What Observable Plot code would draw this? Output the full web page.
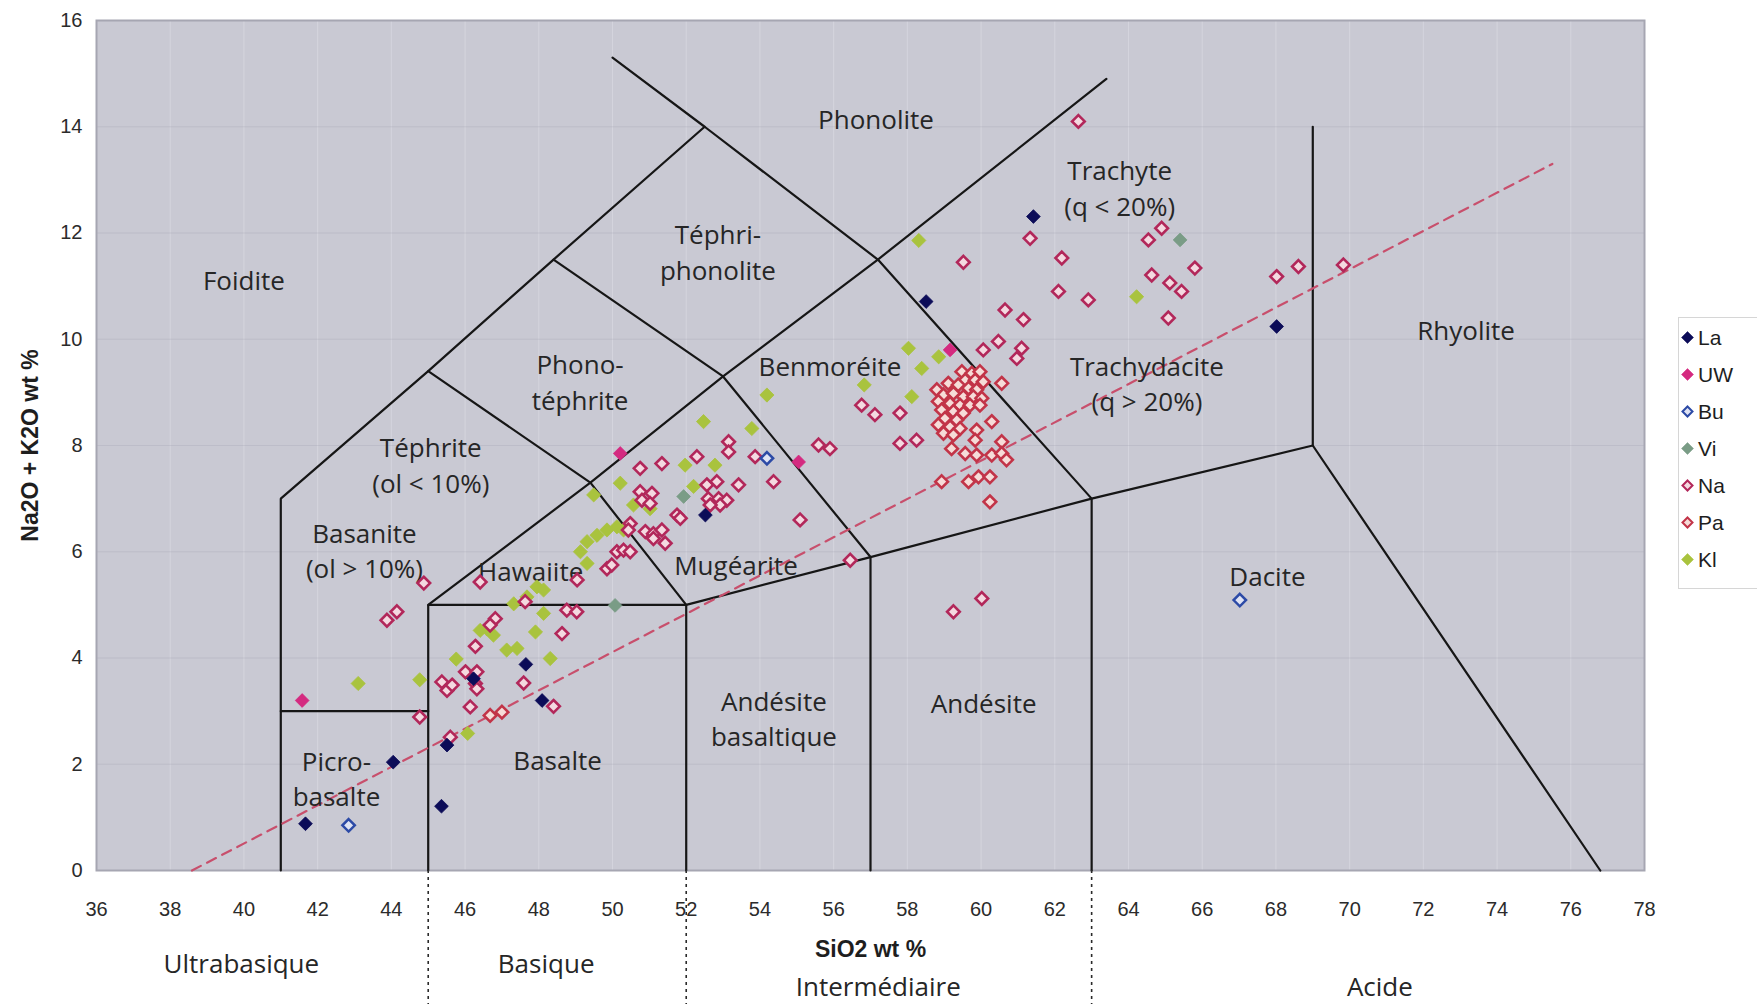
<!DOCTYPE html>
<html>
<head>
<meta charset="utf-8">
<script src="https://cdn.jsdelivr.net/npm/d3@7"></script>
<script src="https://cdn.jsdelivr.net/npm/@observablehq/plot@0.6"></script>
<style>
  html, body { margin: 0; padding: 0; background: #ffffff; }
  #wrap { position: relative; width: 1757px; height: 1004px; overflow: hidden; }
  #legend { position: absolute; left: 1678px; top: 317px; width: 79px; height: 272px;
    border: 1px solid #d6d6d6; border-right: none; box-sizing: border-box; padding-top: 1px;
    font-family: "Liberation Sans", Arial, sans-serif; font-size: 21px; color: #1e1e1e; background: #fff; }
  .item { display: flex; align-items: center; height: 37px; }
  .item svg { margin-left: 1px; margin-right: 3px; }
</style>
</head>
<body>
<div id="wrap"><div id="legend"></div></div>
<script>
// ---------- axis ticks ----------
const xTicks = [36,38,40,42,44,46,48,50,52,54,56,58,60,62,64,66,68,70,72,74,76,78];
const yTicks = [0,2,4,6,8,10,12,14,16];

// ---------- series: [SiO2, Na2O+K2O] ----------
const seriesNames = ["La","UW","Bu","Vi","Na","Pa","Kl"];

const laPoints = [[41.67,0.88],[44.05,2.04],[45.36,1.21],[45.51,2.36],[46.23,3.61],[47.65,3.88],[48.09,3.20],
  [52.52,6.69],[58.51,10.71],[61.42,12.31],[68.02,10.24]];

const uwPoints = [[41.58,3.20],[50.21,7.85],[55.05,7.69],[59.16,9.80]];

const buPoints = [[42.84,0.85],[54.19,7.76],[67.02,5.09]];

const viPoints = [[50.07,4.99],[51.93,7.04],[65.40,11.87]];

const naPoints = [[43.88,4.71],[44.15,4.87],[44.88,5.41],[44.77,2.89],[45.60,2.51],[45.37,3.55],[45.51,3.39],
  [45.65,3.49],[46.28,3.52],[46.32,3.42],[46.01,3.74],[46.32,3.74],[46.28,4.22],[46.14,3.08],[47.59,3.53],
  [48.40,3.09],[48.63,4.46],[46.82,4.74],[46.68,4.62],[47.63,5.06],[48.76,4.90],[49.03,4.87],[46.41,5.43],
  [49.04,5.47],[49.85,5.68],[49.98,5.75],[50.12,6.00],[50.30,6.03],[50.48,6.00],[50.48,6.53],[50.43,6.41],
  [50.89,6.38],[51.11,6.34],[51.34,6.41],[51.43,6.16],[51.11,6.25],[50.75,7.13],[51.07,7.10],[50.80,6.97],
  [51.02,6.91],[51.75,6.69],[51.84,6.63],[53.15,8.07],[53.15,7.88],[52.29,7.79],[51.34,7.66],[50.75,7.57],
  [53.87,7.79],[54.37,7.32],[53.42,7.26],[52.56,7.26],[52.83,7.32],[52.60,7.00],[52.88,7.00],[53.10,6.97],
  [52.92,6.88],[52.65,6.88],[55.09,6.60],[55.59,8.01],[55.90,7.94],[56.45,5.84],[56.76,8.76],[57.12,8.58],
  [57.80,8.61],[57.80,8.04],[58.25,8.10],[59.25,4.87],[60.02,5.12],[59.52,11.45],[61.33,11.90],[62.19,11.53],
  [62.10,10.90],[62.91,10.74],[60.65,10.55],[61.15,10.37],[62.64,14.10],[64.54,11.87],[64.90,12.09],
  [64.63,11.21],[65.80,11.34],[65.12,11.06],[65.44,10.90],[65.08,10.40],[68.02,11.18],[68.61,11.37],
  [69.83,11.40],[60.06,9.80],[60.47,9.96],[60.97,9.64],[61.10,9.83]];

const paPoints = [[46.68,2.92],[47.00,2.98],
  [59.48,9.39],[59.75,9.36],[59.97,9.39],[59.57,9.23],[59.84,9.23],[60.06,9.20],[59.11,9.17],[59.38,9.14],
  [59.66,9.08],[59.88,9.05],[58.80,9.05],[58.98,8.95],[59.25,8.98],[59.52,8.92],[59.79,8.92],[60.02,8.89],
  [58.84,8.83],[59.16,8.79],[59.43,8.76],[59.70,8.76],[59.97,8.76],[58.93,8.67],[59.25,8.64],[59.52,8.61],
  [59.02,8.51],[59.34,8.48],[58.84,8.39],[59.16,8.35],[59.43,8.32],[58.98,8.23],[59.25,8.20],[60.29,8.45],
  [60.56,9.17],[59.88,8.29],[59.84,8.10],[60.56,8.07],[59.20,7.94],[59.57,7.85],[59.88,7.82],[60.29,7.82],
  [60.56,7.85],[60.69,7.73],[58.93,7.32],[59.66,7.32],[59.93,7.41],[60.24,7.41],[60.24,6.94]];

const klPoints = [[43.10,3.52],[44.77,3.59],[46.07,2.58],[45.76,3.98],[46.59,4.55],[46.77,4.43],[46.41,4.52],
  [47.13,4.15],[47.41,4.18],[47.91,4.49],[48.31,3.99],[47.32,5.02],[47.68,5.15],[47.95,5.34],[48.13,5.28],
  [48.13,4.84],[49.31,6.19],[49.58,6.31],[49.85,6.41],[50.12,6.47],[50.30,6.41],[49.13,6.00],[49.31,5.78],
  [50.57,6.88],[51.02,6.81],[49.49,7.07],[50.21,7.29],[52.47,8.45],[54.19,8.95],[53.78,8.32],[51.97,7.63],
  [52.78,7.63],[52.20,7.23],[56.83,9.14],[58.31,11.86],[58.03,9.83],[58.85,9.67],[58.39,9.45],[58.12,8.92],
  [64.22,10.80]];

// ---------- TAS field boundaries (polylines) ----------
const boundaryA = [[41,0],[41,7],[45,9.4],[48.4,11.5],[52.5,14],[57.2,11.5],[63,7],[63,0]];
const boundaryB = [[52.5,14],[50.0,15.3]];
const boundaryC = [[41,3],[45,3]];
const boundaryD = [[45,0],[45,5],[52,5],[52,0]];
const boundaryE = [[45,5],[49.4,7.3],[53,9.3],[57.2,11.5],[63.4,14.9]];
const boundaryF = [[45,9.4],[49.4,7.3],[52,5],[57,5.9],[63,7],[69,8],[76.8,0]];
const boundaryG = [[48.4,11.5],[53,9.3],[57,5.9],[57,0]];
const boundaryH = [[69,8],[69,14]];

// alkaline / subalkaline divide (dashed)
const alkalineDivide = [[38.59,0],[75.5,13.3]];

// ---------- field labels ----------
const fieldNames = ["Foidite","Phonolite","Téphri-\nphonolite","Trachyte\n(q < 20%)","Phono-\ntéphrite",
  "Benmoréite","Trachydacite\n(q > 20%)","Rhyolite","Téphrite\n(ol < 10%)","Basanite\n(ol > 10%)",
  "Hawaiite","Mugéarite","Dacite","Andésite\nbasaltique","Andésite","Picro-\nbasalte","Basalte"];
const fieldX = [40.0,57.15,52.86,63.76,49.12,55.9,64.5,73.16,45.07,43.27,47.78,53.35,67.77,54.38,60.07,42.51,48.51];
const fieldY = [11.14,14.17,11.67,12.87,9.22,9.52,9.19,10.19,7.66,6.05,5.66,5.77,5.56,2.89,3.18,1.76,2.11];

// ---------- silica classes ----------
const classBoundaries = [45,52,63];
const classUpper = ["Ultrabasique","Basique"];
const classUpperX = [39.93,48.2];
const classLower = ["Intermédiaire","Acide"];
const classLowerX = [57.21,70.82];

const xTitle = "SiO2 wt %";
const yTitle = "Na2O + K2O wt %";

// ---------- build tables ----------
const boundaries = [boundaryA,boundaryB,boundaryC,boundaryD,boundaryE,boundaryF,boundaryG,boundaryH];
const boundaryRows = boundaries.flatMap((line, id) => line.map(([x, y]) => ({id, x, y})));
const divideRows = alkalineDivide.map(([x, y]) => ({x, y}));
const labelRows = fieldNames.map((t, i) => ({t, x: fieldX[i], y: fieldY[i]}));

const seriesData = {La: laPoints, UW: uwPoints, Bu: buPoints, Vi: viPoints, Na: naPoints, Pa: paPoints, Kl: klPoints};
const seriesStyle = {
  La: {fill: "#0c0c58", stroke: "#0c0c58", strokeWidth: 0.8, r: 6.2},
  UW: {fill: "#d42a80", stroke: "#d42a80", strokeWidth: 0.8, r: 6.2},
  Bu: {fill: "#dfe3f4", stroke: "#2c4aa6", strokeWidth: 2.5, r: 5.6},
  Vi: {fill: "#7a9c86", stroke: "#7a9c86", strokeWidth: 0.8, r: 6.2},
  Na: {fill: "#f4d9e0", stroke: "#b2275a", strokeWidth: 2.6, r: 5.7},
  Pa: {fill: "#f6dcd8", stroke: "#c23448", strokeWidth: 2.6, r: 5.7},
  Kl: {fill: "#a9c33e", stroke: "#a9c33e", strokeWidth: 0.8, r: 6.4}
};
const drawOrder = ["Kl","Na","Pa","Vi","UW","Bu","La"];

const dotMarks = drawOrder.map(s => Plot.dot(
  seriesData[s].map(([x, y]) => ({x, y})),
  {x: "x", y: "y", symbol: "diamond2", ...seriesStyle[s]}
));

const labelFont = "'Open Sans', 'Noto Sans', sans-serif";

const chart = Plot.plot({
  width: 1757,
  height: 1004,
  marginLeft: 96,
  marginRight: 113,
  marginTop: 20,
  marginBottom: 134,
  x: {domain: [36, 78]},
  y: {domain: [0, 16]},
  style: {fontFamily: "'Liberation Sans', Arial, sans-serif", fontSize: "20px", color: "#2b2b2b", background: "transparent", overflow: "visible"},
  marks: [
    Plot.frame({fill: "#c9c9d3"}),
    Plot.gridX(xTicks, {stroke: "#e6e6ee", strokeOpacity: 0.4}),
    Plot.gridY(yTicks, {stroke: "#9a9aaa", strokeOpacity: 0.25}),
    Plot.frame({stroke: "#a6a6b2", strokeWidth: 2}),
    Plot.line(boundaryRows, {x: "x", y: "y", z: "id", stroke: "#161616", strokeWidth: 2.2, strokeLinejoin: "miter"}),
    Plot.line(divideRows, {x: "x", y: "y", stroke: "#c84f6c", strokeWidth: 2.2, strokeDasharray: "10,7"}),
    Plot.text(labelRows, {x: "x", y: "y", text: "t", fontFamily: labelFont, fontSize: 26, lineHeight: 1.36, fill: "#262626"}),
    ...dotMarks,
    Plot.axisX({ticks: xTicks, tickSize: 0, tickPadding: 31, tickFormat: d => String(d), label: null}),
    Plot.axisY({ticks: yTicks, tickSize: 0, tickPadding: 14, tickFormat: d => String(d), label: null}),
    Plot.ruleX(classBoundaries, {y1: 0, y2: 0, insetBottom: -134, stroke: "#2a2a2a", strokeWidth: 1.6, strokeDasharray: "3,4"}),
    Plot.text([xTitle], {frameAnchor: "bottom", dy: 86, fontWeight: "bold", fontSize: 23, fill: "#1e1e1e"}),
    Plot.text(classUpper, {x: (d, i) => classUpperX[i], frameAnchor: "bottom", dy: 102, text: d => d, fontFamily: labelFont, fontSize: 26, fill: "#262626"}),
    Plot.text(classLower, {x: (d, i) => classLowerX[i], frameAnchor: "bottom", dy: 125, text: d => d, fontFamily: labelFont, fontSize: 26, fill: "#262626"}),
    Plot.text([yTitle], {frameAnchor: "left", dx: -66, rotate: -90, textAnchor: "middle", fontWeight: "bold", fontSize: 23, fill: "#1e1e1e"})
  ]
});

document.getElementById("wrap").prepend(chart);

// ---------- legend ----------
const legend = document.getElementById("legend");
for (const s of seriesNames) {
  const st = seriesStyle[s];
  const item = document.createElement("div");
  item.className = "item";
  const open = st.strokeWidth > 1;
  const r = open ? 5 : 6;
  item.innerHTML = `<svg width="15" height="15" viewBox="-7.5 -7.5 15 15"><polygon points="0,${-r} ${r},0 0,${r} ${-r},0" fill="${st.fill}" stroke="${st.stroke}" stroke-width="${open ? 2 : 0.5}"/></svg><span>${s}</span>`;
  legend.appendChild(item);
}
</script>
</body>
</html>
